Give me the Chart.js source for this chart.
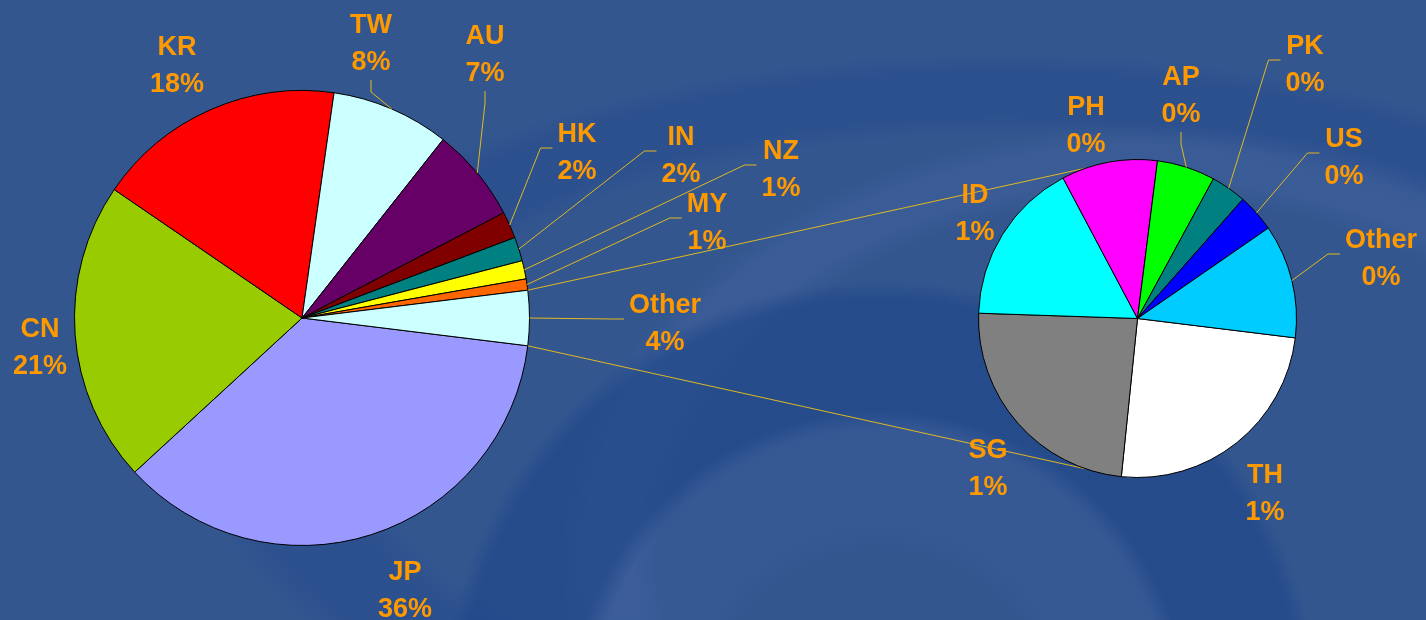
<!DOCTYPE html>
<html>
<head>
<meta charset="utf-8">
<script src="https://cdn.jsdelivr.net/npm/chart.js@4.4.1/dist/chart.umd.min.js"></script>
<style>
  html, body { margin: 0; padding: 0; }
  body {
    width: 1426px; height: 620px; overflow: hidden; position: relative;
    background-color: #33568f;
    background-image:
      radial-gradient(circle at 880px 720px, rgba(0,0,0,0) 0 170px, rgba(60,95,160,0.3) 190px 290px, rgba(25,65,135,0.5) 310px 420px, rgba(0,0,0,0) 440px),
      radial-gradient(ellipse 760px 560px at 1150px 560px, rgba(0,0,0,0) 0 64%, rgba(75,105,165,0.3) 68% 74%, rgba(0,0,0,0) 78%),
      radial-gradient(ellipse 900px 420px at 1000px 430px, rgba(0,0,0,0) 0 70%, rgba(30,70,140,0.35) 75% 85%, rgba(0,0,0,0) 90%);
  }
  canvas { position: absolute; left: 0; top: 0; }
</style>
</head>
<body>
<canvas id="pieUtama" width="1426" height="620"></canvas>
<canvas id="pieDetail" width="1426" height="620"></canvas>
<script>
// {{-- data pie utama --}}
const mainLabels = ["JP", "CN", "KR", "TW", "AU", "HK", "IN", "NZ", "MY", "Other"];
const mainValues = [36.2, 21.4, 17.7, 8.4, 6.7, 1.9, 1.7, 1.3, 0.8, 3.9];
const mainColors = ["#9999ff", "#99cc00", "#ff0000", "#ccffff", "#660066",
                    "#800000", "#008080", "#ffff00", "#ff6600", "#ccffff"];

// {{-- data pie rincian "Other" --}}
const detailLabels = ["TH", "SG", "ID", "PH", "AP", "PK", "US", "Other"];
const detailValues = [0.96, 0.93, 0.65, 0.38, 0.23, 0.14, 0.15, 0.45];
const detailColors = ["#ffffff", "#808080", "#00ffff", "#ff00ff",
                      "#00ff00", "#008080", "#0000ff", "#00ccff"];

// posisi label (x, y tengah blok teks, arah garis penunjuk)
const mainLabelPos = [
  [405, 588, null], [40, 345, null], [177, 63, null], [371, 41, "up"], [485, 52, "up"],
  [577, 150, "right"], [681, 153, "right"], [781, 167, "right"], [707, 220, "right"], [665, 321, "right"]
];
const detailLabelPos = [
  [1265, 491, null], [988, 466, null], [975, 211, null], [1086, 123, null],
  [1181, 93, "up"], [1305, 62, "right"], [1344, 155, "right"], [1381, 256, "right"]
];

const mainTotal = mainValues.reduce((a, b) => a + b, 0);
const labelFont = "bold 27px 'Liberation Sans', Arial, sans-serif";
const labelColor = "#ff9900";
const leaderColor = "#e0b820";

function drawLabels(chart, labels, values, pos) {
  const ctx = chart.ctx;
  const arcs = chart.getDatasetMeta(0).data;
  ctx.save();
  ctx.font = labelFont;
  ctx.textAlign = "center";
  ctx.textBaseline = "alphabetic";
  arcs.forEach((arc, i) => {
    const [x, y, leader] = pos[i];
    const pct = Math.round(values[i] / mainTotal * 100) + "%";
    const w = Math.max(ctx.measureText(labels[i]).width, ctx.measureText(pct).width);
    if (leader) {
      const mid = (arc.startAngle + arc.endAngle) / 2;
      const px = arc.x + Math.cos(mid) * arc.outerRadius;
      const py = arc.y + Math.sin(mid) * arc.outerRadius;
      let ax, ay, ex, ey;
      if (leader === "up") {
        ax = x; ay = y + 39; ex = x; ey = ay + 12;
      } else {
        ax = x - w / 2 - 5; ay = y - 2; ex = ax - 12; ey = ay;
      }
      ctx.strokeStyle = leaderColor;
      ctx.lineWidth = 1;
      ctx.beginPath();
      ctx.moveTo(ax, ay);
      ctx.lineTo(ex, ey);
      ctx.lineTo(px, py);
      ctx.stroke();
    }
    ctx.fillStyle = labelColor;
    ctx.fillText(labels[i], x, y - 8);
    ctx.fillText(pct, x, y + 29);
  });
  ctx.restore();
}

// sudut awal: slice "Other" berada tepat di kanan
const otherDeg = mainValues[mainValues.length - 1] / mainTotal * 360;

const mainChart = new Chart("pieUtama", {
  type: "pie",
  data: {
    labels: mainLabels,
    datasets: [{
      data: mainValues,
      backgroundColor: mainColors,
      borderColor: "#000000",
      borderWidth: 1
    }]
  },
  options: {
    responsive: false,
    animation: false,
    rotation: 90 + otherDeg / 2,
    layout: { padding: { left: 74, right: 896, top: 90, bottom: 74 } },
    plugins: { legend: { display: false }, tooltip: { enabled: false } }
  },
  plugins: [{
    id: "labelUtama",
    afterDatasetsDraw(chart) { drawLabels(chart, mainLabels, mainValues, mainLabelPos); }
  }]
});

new Chart("pieDetail", {
  type: "pie",
  data: {
    labels: detailLabels,
    datasets: [{
      data: detailValues,
      backgroundColor: detailColors,
      borderColor: "#000000",
      borderWidth: 1
    }]
  },
  options: {
    responsive: false,
    animation: false,
    rotation: 97,
    layout: { padding: { left: 978, right: 129, top: 159, bottom: 142 } },
    plugins: { legend: { display: false }, tooltip: { enabled: false } }
  },
  plugins: [{
    id: "garisPenghubung",
    beforeDatasetsDraw(chart) {
      const other = mainChart.getDatasetMeta(0).data[mainValues.length - 1];
      const d = chart.getDatasetMeta(0).data[0];
      const spread = 71 * Math.PI / 180;
      const ctx = chart.ctx;
      ctx.save();
      ctx.strokeStyle = leaderColor;
      ctx.lineWidth = 1;
      [[other.startAngle, Math.PI + spread], [other.endAngle, Math.PI - spread]].forEach(([a, b]) => {
        ctx.beginPath();
        ctx.moveTo(other.x + Math.cos(a) * other.outerRadius, other.y + Math.sin(a) * other.outerRadius);
        ctx.lineTo(d.x + Math.cos(b) * d.outerRadius, d.y + Math.sin(b) * d.outerRadius);
        ctx.stroke();
      });
      ctx.restore();
    },
    afterDatasetsDraw(chart) { drawLabels(chart, detailLabels, detailValues, detailLabelPos); }
  }]
});
</script>
</body>
</html>
